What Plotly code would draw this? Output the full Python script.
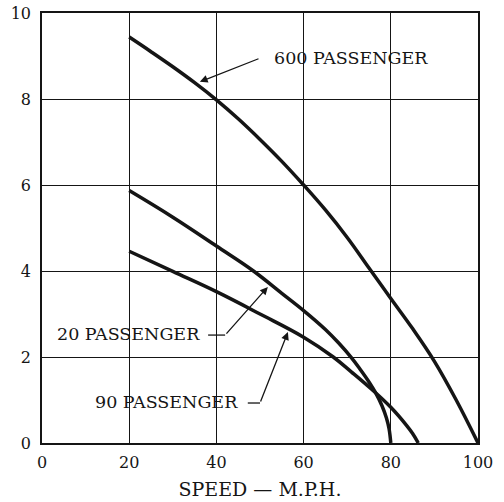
import plotly.graph_objects as go

# Data
x_600 = [20, 25, 30, 35, 40, 45, 50, 55, 60, 65, 70, 75, 80, 85, 90, 95, 100]
y_600 = [9.44, 9.10, 8.75, 8.38, 7.98, 7.54, 7.06, 6.55, 6.00, 5.42, 4.78, 4.07, 3.36, 2.66, 1.90, 1.00, 0.0]

x_20 = [20, 30, 40, 48.5, 55, 60, 65, 68, 71, 73, 75, 76.5, 78, 79, 79.6, 80]
y_20 = [5.87, 5.25, 4.58, 4.00, 3.48, 3.08, 2.64, 2.33, 1.98, 1.71, 1.42, 1.17, 0.86, 0.58, 0.33, 0.0]

x_90 = [20, 30, 40, 50, 60, 66.8, 71, 75.6, 80, 83.6, 85, 86.3]
y_90 = [4.46, 3.99, 3.52, 3.00, 2.46, 2.00, 1.65, 1.25, 0.83, 0.41, 0.22, 0.0]

x_ticks = [0, 20, 40, 60, 80, 100]
y_ticks = [0, 2, 4, 6, 8, 10]

FONT = "DejaVu Serif"
INK = "#151515"

fig = go.Figure()
for xs, ys, name in [(x_600, y_600, "600 PASSENGER"), (x_20, y_20, "20 PASSENGER"), (x_90, y_90, "90 PASSENGER")]:
    fig.add_trace(go.Scatter(x=xs, y=ys, mode="lines", name=name,
                             line=dict(color=INK, width=3.5, shape="spline", smoothing=1.1),
                             showlegend=False, hoverinfo="skip"))

ANN_SIZE = 17.5
# labels
fig.add_annotation(x=52.8, y=8.95, text="600 PASSENGER", showarrow=False, xanchor="left", yanchor="middle",
                   font=dict(family=FONT, size=ANN_SIZE, color=INK))
fig.add_annotation(x=36.2, y=8.4, ax=50.0, ay=8.95, axref="x", ayref="y", text="", showarrow=True,
                   arrowhead=2, arrowsize=1.2, arrowwidth=1.3, arrowcolor=INK)

fig.add_annotation(x=36.7, y=2.53, text="20 PASSENGER", showarrow=False, xanchor="right", yanchor="middle",
                   font=dict(family=FONT, size=ANN_SIZE, color=INK))
fig.add_shape(type="line", x0=38.1, y0=2.51, x1=42.0, y1=2.51, line=dict(color=INK, width=1.3))
fig.add_annotation(x=51.8, y=3.63, ax=42.0, ay=2.51, axref="x", ayref="y", text="", showarrow=True,
                   arrowhead=2, arrowsize=1.2, arrowwidth=1.3, arrowcolor=INK)

fig.add_annotation(x=45.4, y=0.95, text="90 PASSENGER", showarrow=False, xanchor="right", yanchor="middle",
                   font=dict(family=FONT, size=ANN_SIZE, color=INK))
fig.add_shape(type="line", x0=47.2, y0=0.93, x1=50.0, y1=0.93, line=dict(color=INK, width=1.3))
fig.add_annotation(x=56.4, y=2.58, ax=50.0, ay=0.93, axref="x", ayref="y", text="", showarrow=True,
                   arrowhead=2, arrowsize=1.2, arrowwidth=1.3, arrowcolor=INK)

fig.update_layout(
    width=504, height=502,
    margin=dict(l=42, r=26, t=13, b=59),
    paper_bgcolor="white", plot_bgcolor="white",
    font=dict(family=FONT, size=16, color=INK),
    xaxis=dict(range=[0, 100], tickvals=x_ticks, ticktext=[str(v) for v in x_ticks],
               showgrid=True, gridcolor=INK, gridwidth=1.3, zeroline=False, automargin=False,
               showline=True, linecolor=INK, linewidth=1.6, mirror=True, ticks="",
               ticklabelstandoff=4,
               tickfont=dict(family=FONT, size=16),
               title=dict(text="SPEED — M.P.H.", font=dict(family=FONT, size=19), standoff=12)),
    yaxis=dict(range=[0, 10], tickvals=y_ticks, ticktext=[str(v) for v in y_ticks],
               showgrid=True, gridcolor=INK, gridwidth=1.3, zeroline=False, automargin=False,
               showline=True, linecolor=INK, linewidth=1.6, mirror=True, ticks="",
               ticklabelstandoff=6,
               tickfont=dict(family=FONT, size=16)),
)

fig.write_html("out.html", config={"displayModeBar": False},
               post_script="document.body.style.margin='0';document.body.style.overflow='hidden';")
